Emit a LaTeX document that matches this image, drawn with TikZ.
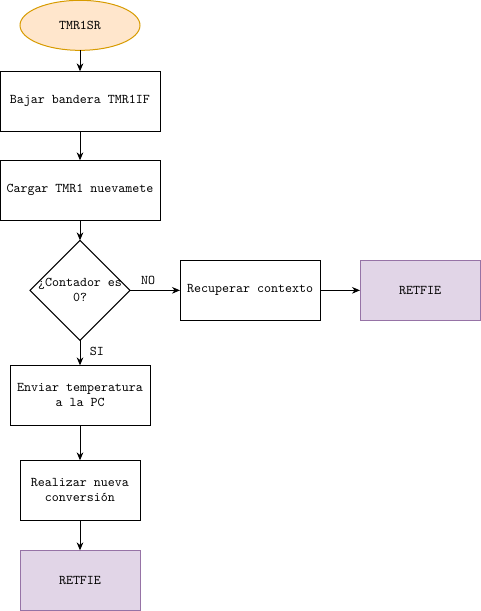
\documentclass[tikz,border=0pt]{standalone}
\usepackage{fontspec}
\usepackage{xcolor}
\usepackage{tikz}
\usetikzlibrary{shapes.geometric, arrows.meta, positioning}
\definecolor{startfill}{HTML}{FFE6CC}
\definecolor{startdraw}{HTML}{D79B00}
\definecolor{endfill}{HTML}{E1D5E7}
\definecolor{enddraw}{HTML}{9673A6}
\tikzset{
    start/.style={
        ellipse,
        draw=startdraw,
        fill=startfill,
        line width=0.75pt,
        outer sep=0pt,
        minimum width=90pt,
        minimum height=37.5pt,
        font=\fontsize{10}{11.25}\selectfont\ttfamily
    },
    process/.style={
        rectangle,
        draw=black,
        line width=0.75pt,
        outer sep=0pt,
        minimum width=120pt,
        minimum height=45pt,
        fill=white,
        align=center,
        font=\fontsize{10}{11.25}\selectfont\ttfamily
    },
    decision/.style={
        diamond,
        draw=black,
        line width=0.75pt,
        outer sep=0pt,
        minimum width=75pt,
        minimum height=75pt,
        inner sep=-4pt,
        align=center,
        font=\fontsize{10}{11.25}\selectfont\ttfamily
    },
    finish/.style={
        rectangle,
        draw=enddraw,
        fill=endfill,
        line width=0.75pt,
        outer sep=0pt,
        minimum width=90pt,
        minimum height=45pt,
        font=\fontsize{10}{11.25}\selectfont\ttfamily
    },
    wire/.style={
        draw=black,
        line width=0.75pt,
        -{Stealth[length=6pt,width=5pt]}
    },
    tag/.style={
        font=\fontsize{10}{11.25}\selectfont\ttfamily,
        inner sep=1pt
    }
}
\begin{document}
\begin{tikzpicture}
\useasboundingbox (0,0) rectangle (360.75pt,-458.25pt);

% Main column
\node[start] (isr) at (60pt,-19pt) {TMR1SR};
\node[process, below=15.75pt of isr] (flag) {Bajar bandera TMR1IF};
\node[process, below=21.75pt of flag] (load) {Cargar TMR1 nuevamete};
\node[decision, below=15pt of load] (cnt) {¿Contador es\\0?};

% NO branch (right)
\node[process, right=37.5pt of cnt, minimum width=105pt] (restore) {Recuperar contexto};
\node[finish, right=30pt of restore] (ret1) {RETFIE};

% SI branch (below)
\node[process, below=18.75pt of cnt, minimum width=105pt] (send) {Enviar temperatura\\a la PC};
\node[process, below=26.25pt of send, minimum width=90pt] (conv) {Realizar nueva\\conversión};
\node[finish, below=22.5pt of conv] (ret2) {RETFIE};

% Connections
\draw[wire] (isr) -- (flag);
\draw[wire] (flag) -- (load);
\draw[wire] (load) -- (cnt);
\draw[wire] (cnt) -- node[tag, pos=0.36, above=3pt] {NO} (restore);
\draw[wire] (restore) -- (ret1);
\draw[wire] (cnt) -- node[tag, pos=0.45, right=6pt] {SI} (send);
\draw[wire] (send) -- (conv);
\draw[wire] (conv) -- (ret2);

\end{tikzpicture}
\end{document}
